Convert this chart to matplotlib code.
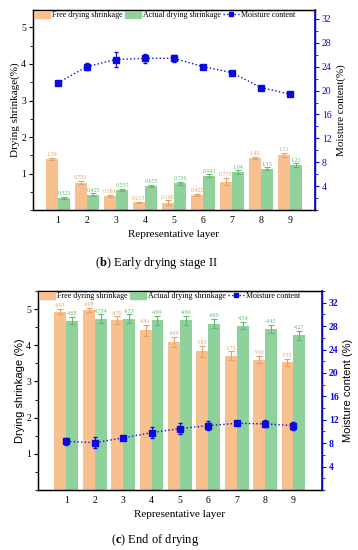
import numpy as np
import matplotlib
matplotlib.use("Agg")
import matplotlib.pyplot as plt
from matplotlib.patches import Patch
from matplotlib.lines import Line2D
from matplotlib.ticker import MultipleLocator

plt.rcParams["font.family"] = "Liberation Serif"
plt.rcParams["mathtext.fontset"] = "custom"
plt.rcParams["mathtext.rm"] = "Liberation Serif"
plt.rcParams["mathtext.bf"] = "Liberation Serif:bold"

layers = [1, 2, 3, 4, 5, 6, 7, 8, 9]

# (b) Early drying stage II
b_free = [1.39, 0.753, 0.383, 0.213, 0.198, 0.422, 0.775, 1.42, 1.51]
b_free_err = [0.03, 0.04, 0.03, 0.02, 0.07, 0.03, 0.1, 0.03, 0.06]
b_free_lbl = ["1.39", "0.753", "0.383", "0.213", "0.198", "0.422", "0.775", "1.42", "1.51"]
b_actual = [0.323, 0.425, 0.555, 0.655, 0.736, 0.941, 1.04, 1.13, 1.23]
b_actual_err = [0.03, 0.03, 0.03, 0.03, 0.04, 0.04, 0.05, 0.04, 0.05]
b_actual_lbl = ["0.323", "0.425", "0.555", "0.655", "0.736", "0.941", "1.04", "1.13", "1.23"]
b_moist = [21.3, 24.0, 25.2, 25.4, 25.4, 24.0, 23.0, 20.5, 19.4]
b_moist_err = [0.3, 0.6, 1.2, 0.8, 0.6, 0.3, 0.3, 0.2, 0.2]

# (c) End of drying
c_free = [4.93, 4.98, 4.70, 4.41, 4.09, 3.83, 3.71, 3.60, 3.53]
c_free_err = [0.07, 0.06, 0.1, 0.15, 0.15, 0.15, 0.12, 0.1, 0.1]
c_free_lbl = ["4.93", "4.98", "4.70", "4.41", "4.09", "3.83", "3.71", "3.60", "3.53"]
c_actual = [4.68, 4.73, 4.73, 4.69, 4.69, 4.60, 4.54, 4.45, 4.27]
c_actual_err = [0.1, 0.12, 0.12, 0.12, 0.12, 0.12, 0.1, 0.12, 0.12]
c_actual_lbl = ["4.68", "4.734", "4.73", "4.69", "4.69", "4.60", "4.54", "4.45", "4.27"]
c_moist = [8.3, 8.1, 8.9, 9.8, 10.5, 11.0, 11.4, 11.3, 11.0]
c_moist_err = [0.6, 0.9, 0.4, 0.9, 0.9, 0.8, 0.3, 0.6, 0.7]

ORANGE = "#f9c08f"
GREEN = "#8fd19b"
ORANGE_T = "#e9a15e"
GREEN_T = "#5dbb6a"
BLUE = "#0a0adf"


def panel(rect, free, free_err, free_lbl, actual, actual_err, actual_lbl,
          moist, moist_err, xlim, ylim, ylim2, labels, ylab, ylab2, lab_font,
          bold_right=False):
    ax = fig.add_axes(rect)
    x = np.array(layers, dtype=float)
    w = 0.42
    ax.bar(x - w / 2, free, w, color=ORANGE, yerr=free_err,
           error_kw=dict(ecolor=ORANGE_T, elinewidth=0.8, capsize=2, capthick=0.8))
    ax.bar(x + w / 2, actual, w, color=GREEN, yerr=actual_err,
           error_kw=dict(ecolor=GREEN_T, elinewidth=0.8, capsize=2, capthick=0.8))
    for xi, v, e, t in zip(x, free, free_err, free_lbl):
        ax.text(xi - w / 2, v + e + 0.02, t, ha="center", va="bottom",
                fontsize=4.3, color=ORANGE_T)
    for xi, v, e, t in zip(x, actual, actual_err, actual_lbl):
        ax.text(xi + w / 2, v + e + 0.02, t, ha="center", va="bottom",
                fontsize=4.3, color=GREEN_T)
    ax.set_xlim(*xlim)
    ax.set_ylim(*ylim)
    ax.set_xticks(layers)
    ax.yaxis.set_minor_locator(MultipleLocator(0.5))
    ax.set_yticks([1, 2, 3, 4, 5])
    ax.tick_params(labelsize=7, length=3, width=0.8, pad=2)
    ax.tick_params(which="minor", length=2, width=0.6)
    ax.tick_params(axis="x", length=0, pad=4)
    ax.set_xlabel("Representative layer", fontsize=8, labelpad=4)
    ax.set_ylabel(ylab, fontsize=8, labelpad=1, family=lab_font)
    for s in ax.spines.values():
        s.set_linewidth(1.0)

    ax2 = ax.twinx()
    ax2.errorbar(layers, moist, yerr=moist_err, color=BLUE, marker="s",
                 markersize=3.8, linestyle=":", linewidth=1.0, elinewidth=0.8,
                 capsize=1.5)
    ax2.set_ylim(*ylim2)
    ax2.set_yticks([4, 8, 12, 16, 20, 24, 28, 32])
    ax2.yaxis.set_minor_locator(MultipleLocator(2))
    ax2.tick_params(axis="y", colors=BLUE, labelsize=7, length=3, width=0.8, pad=2)
    ax2.tick_params(axis="y", which="minor", colors=BLUE, length=2, width=0.6)
    if bold_right:
        for t in ax2.get_yticklabels():
            t.set_fontweight("bold")
    ax2.spines["right"].set_color(BLUE)
    ax2.spines["right"].set_linewidth(1.2)
    ax2.set_ylabel(ylab2, fontsize=8, labelpad=3, family=lab_font)

    handles = [Patch(color=ORANGE), Patch(color=GREEN),
               Line2D([], [], color=BLUE, marker="s", markersize=3.2,
                      linestyle=":", linewidth=1)]
    ax.legend(handles, labels, loc="upper left", bbox_to_anchor=(0.0, 1.0),
              ncol=3, frameon=False, fontsize=5.8, handlelength=2.0,
              handleheight=0.9, handletextpad=0.25, columnspacing=0.25,
              borderaxespad=0.05, borderpad=0.1)
    return ax


fig = plt.figure(figsize=(3.58, 5.5), dpi=100)

panel([0.092, 0.618, 0.788, 0.364], b_free, b_free_err, b_free_lbl,
      b_actual, b_actual_err, b_actual_lbl, b_moist, b_moist_err,
      (0.14, 9.86), (0, 5.48), (0, 33.5),
      ["Free drying shrinkage", "Actual drying shrinkage", "Moisture content"],
      "Drying shrinkage(%)", "Moisture content(%)", "Liberation Serif")

panel([0.106, 0.109, 0.793, 0.362], c_free, c_free_err, c_free_lbl,
      c_actual, c_actual_err, c_actual_lbl, c_moist, c_moist_err,
      (0.0, 10.0), (0, 5.5), (0, 34),
      ["Free dyring shrinkage", "Actual drying shrinkage", "Moisture content"],
      "Drying shrinkage (%)", "Moisture content (%)", "Liberation Sans",
      bold_right=True)

fig.text(156 / 358, 1 - 263 / 550, r"($\mathbf{b}$) Early drying stage II",
         ha="center", va="center", fontsize=9)
fig.text(155 / 358, 1 - 540 / 550, r"($\mathbf{c}$) End of drying",
         ha="center", va="center", fontsize=9)

fig.savefig("out.png", dpi=100)
